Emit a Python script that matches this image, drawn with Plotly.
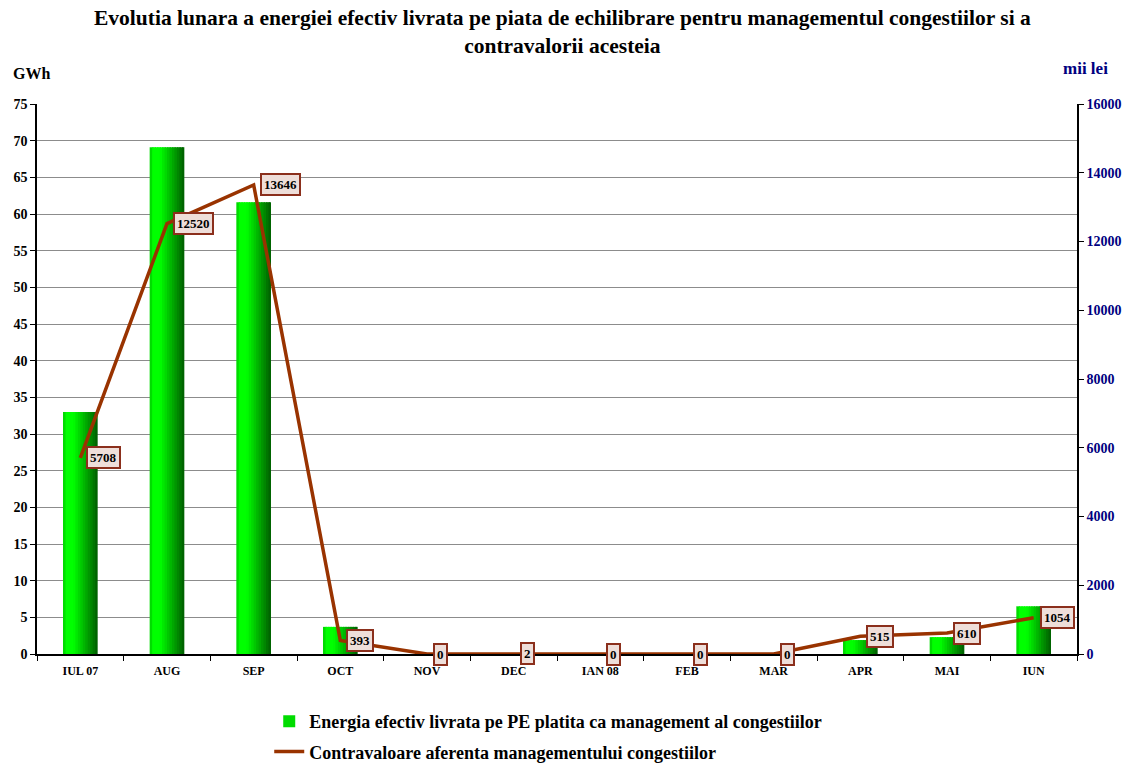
import plotly.graph_objects as go

months = ["IUL 07", "AUG", "SEP", "OCT", "NOV", "DEC", "IAN 08", "FEB", "MAR", "APR", "MAI", "IUN"]
energy_gwh = [33.0, 69.1, 61.6, 3.7, 0, 0, 0, 0, 0, 1.9, 2.3, 6.5]
value_mii_lei = [5708, 12520, 13646, 393, 0, 2, 0, 0, 0, 515, 610, 1054]

FONT = "Liberation Serif, Times New Roman, serif"
LINE_COLOR = "#993300"

fig = go.Figure()

# Bars drawn as vertical strips to emulate the horizontal green gradient
bar_w = 0.40
n_strips = 14
sw = bar_w / n_strips
for i in range(n_strips):
    t = (i + 0.5) / n_strips
    f = max(0.0, (t - 0.3) / 0.7)
    g = int(round(255 - (255 - 92) * f))
    color = f"rgb(0,{g},0)"
    width = sw * 1.6 if i < n_strips - 1 else sw
    fig.add_trace(go.Bar(
        x=months, y=energy_gwh,
        offset=-bar_w / 2 + i * sw, width=width,
        marker=dict(color=color if i > 0 else "rgb(0,220,0)", line=dict(width=0)),
        name="Energia efectiv livrata pe PE platita ca management al congestiilor",
        showlegend=(i == 0), legendgroup="a", hoverinfo="skip" if i > 0 else None,
    ))

fig.add_trace(go.Scatter(
    x=months, y=value_mii_lei, yaxis="y2", mode="lines",
    line=dict(color=LINE_COLOR, width=3.5),
    name="Contravaloare aferenta managementului congestiilor",
    legendgroup="b",
))

for m, v in zip(months, value_mii_lei):
    fig.add_annotation(
        x=m, y=v, yref="y2", text=f"<b>{v}</b>", showarrow=False,
        xanchor="left", yanchor="middle", xshift=6,
        font=dict(family=FONT, size=13, color="black"),
        bgcolor="#eeded9", bordercolor="#8b2f1c", borderwidth=2, borderpad=2,
    )

fig.add_annotation(
    xref="paper", yref="paper", x=0.5, y=1.0, xshift=5, yshift=100, xanchor="center", yanchor="top",
    text="<b>Evolutia lunara a energiei efectiv livrata pe piata de echilibrare pentru managementul congestiilor si a<br>contravalorii acesteia</b>",
    showarrow=False, font=dict(family=FONT, size=21.5, color="black"),
)
fig.add_annotation(
    xref="paper", yref="paper", x=0, y=1.0, xshift=-26, yshift=31, xanchor="left", yanchor="middle",
    text="<b>GWh</b>", showarrow=False, font=dict(family=FONT, size=16, color="black"),
)
fig.add_annotation(
    xref="paper", yref="paper", x=1, y=1.0, xshift=8, yshift=36, xanchor="center", yanchor="middle",
    text="<b>mii lei</b>", showarrow=False, font=dict(family=FONT, size=17, color="#000080"),
)

fig.update_layout(
    width=1135, height=765,
    margin=dict(l=37, r=58, t=104, b=111, autoexpand=False),
    paper_bgcolor="white", plot_bgcolor="white",
    barmode="overlay",
    font=dict(family=FONT, color="black"),
    showlegend=True,
    legend=dict(
        x=0.2233, y=-0.089, xanchor="left", yanchor="top",
        font=dict(family=FONT, size=18, color="black", weight="bold"),
        tracegroupgap=4, bgcolor="rgba(0,0,0,0)",
    ),
    xaxis=dict(
        type="category", categoryorder="array", categoryarray=months,
        tickson="boundaries", ticks="outside", ticklen=5, tickcolor="black",
        showline=True, linecolor="black", linewidth=1.5, showgrid=False,
        tickfont=dict(family=FONT, size=12, color="black", weight="bold"),
        ticklabelstandoff=5,
        range=[-0.5, 11.5], automargin=False,
    ),
    yaxis=dict(
        range=[0, 75], dtick=5, ticks="outside", ticklen=5, tickcolor="black",
        showline=True, linecolor="black", linewidth=1.5,
        showgrid=True, gridcolor="#8c8c8c", gridwidth=1, zeroline=False,
        tickfont=dict(family=FONT, size=14, color="black", weight="bold"),
        automargin=False,
    ),
    yaxis2=dict(
        overlaying="y", side="right", range=[0, 16000], dtick=2000, tickformat="d",
        ticks="outside", ticklen=5, tickcolor="black",
        showline=True, linecolor="black", linewidth=1.5, showgrid=False, zeroline=False,
        tickfont=dict(family=FONT, size=14, color="#000080", weight="bold"),
        automargin=False,
    ),
)

fig.write_html(
    "out.html",
    config={"displayModeBar": False},
    post_script="document.body.style.margin='0';document.body.style.overflow='hidden';",
)
